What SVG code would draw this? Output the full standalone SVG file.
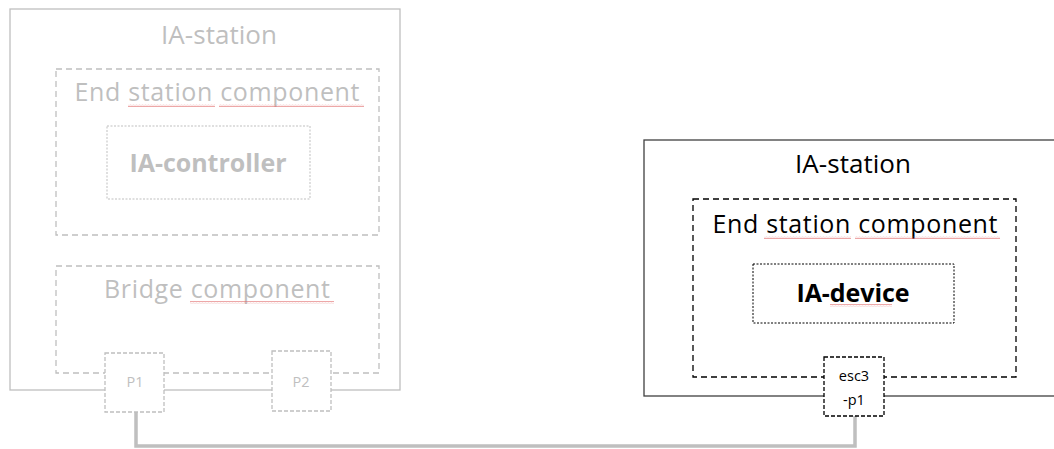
<svg xmlns="http://www.w3.org/2000/svg" width="1054" height="449" viewBox="0 0 1054 449">
<style>
text{font-family:"Open Sans","Noto Sans","Liberation Sans",sans-serif;text-anchor:middle}
.g{fill:#bfbfbf}
.k{fill:#000}
.ttl{font-size:26px}
.lbl{font-size:25px}
.bold{font-size:25px;font-weight:bold}
.port{font-size:14.5px}
.gs{fill:#fff;stroke:#bfbfbf;stroke-width:1.3}
.gd{fill:none;stroke:#bfbfbf;stroke-width:1.3;stroke-dasharray:6 4}
.gdot{fill:none;stroke:#bfbfbf;stroke-width:1;stroke-dasharray:2 1.5}
.gp{fill:#fff;stroke:#bfbfbf;stroke-width:1.3;stroke-dasharray:4 2}
.ks{fill:#fff;stroke:#404040;stroke-width:1.3}
.kd{fill:none;stroke:#000;stroke-width:1.3;stroke-dasharray:6 4}
.kdot{fill:none;stroke:#000;stroke-width:1;stroke-dasharray:2 1.5}
.kp{fill:#fff;stroke:#000;stroke-width:1.3;stroke-dasharray:4 2}
.conn{fill:none;stroke:#bfbfbf;stroke-width:3.5}
</style>
<defs>
<pattern id="wave" width="3" height="3" patternUnits="userSpaceOnUse">
<path d="M0 2.2 L0.75 0.8 L1.5 2.2 L2.25 0.8 L3 2.2" fill="none" stroke="#e07070" stroke-width="0.6"/>
</pattern>
</defs>

<g id="connectors">
<path class="conn" d="M136 412 V446 H855 V416"/>
</g>

<g id="left-ia-station">
<rect class="gs" x="10" y="9" width="390" height="381"/>
<text class="g ttl" x="219" y="44" textLength="116">IA-station</text>
</g>

<g id="left-end-station-component">
<rect class="gd" x="56" y="69" width="323" height="166"/>
<text class="g lbl" x="217" y="101" textLength="285">End station component</text>
<rect x="128" y="104" width="87" height="3" fill="url(#wave)"/>
<rect x="219" y="104" width="145" height="3" fill="url(#wave)"/>
</g>

<g id="ia-controller">
<rect class="gdot" x="107" y="126" width="203" height="73"/>
<text class="g bold" x="208" y="172" textLength="157">IA-controller</text>
</g>

<g id="bridge-component">
<rect class="gd" x="56" y="266" width="323" height="107"/>
<text class="g lbl" x="217" y="298" textLength="226">Bridge component</text>
<rect x="190" y="301" width="144" height="3" fill="url(#wave)"/>
</g>

<g id="port-p1">
<rect class="gp" x="105" y="353" width="59" height="59"/>
<text class="g port" x="135" y="387">P1</text>
</g>

<g id="port-p2">
<rect class="gp" x="272" y="351" width="59" height="60"/>
<text class="g port" x="301" y="387">P2</text>
</g>

<g id="right-ia-station">
<rect class="ks" x="644" y="140" width="420" height="256"/>
<text class="k ttl" x="853" y="173" textLength="116">IA-station</text>
</g>

<g id="right-end-station-component">
<rect class="kd" x="693" y="199" width="323" height="178"/>
<text class="k lbl" x="855" y="233" textLength="285">End station component</text>
<rect x="764" y="236" width="87" height="3" fill="url(#wave)"/>
<rect x="855" y="236" width="145" height="3" fill="url(#wave)"/>
</g>

<g id="ia-device">
<rect class="kdot" x="753" y="264" width="201" height="59"/>
<text class="k bold" x="853" y="302" textLength="113">IA-device</text>
<rect x="830" y="304" width="62" height="3" fill="url(#wave)"/>
</g>

<g id="port-esc3-p1">
<rect class="kp" x="824" y="357" width="60" height="59"/>
<text class="k port" x="854" y="381">esc3</text>
<text class="k port" x="854" y="405">-p1</text>
</g>
</svg>
